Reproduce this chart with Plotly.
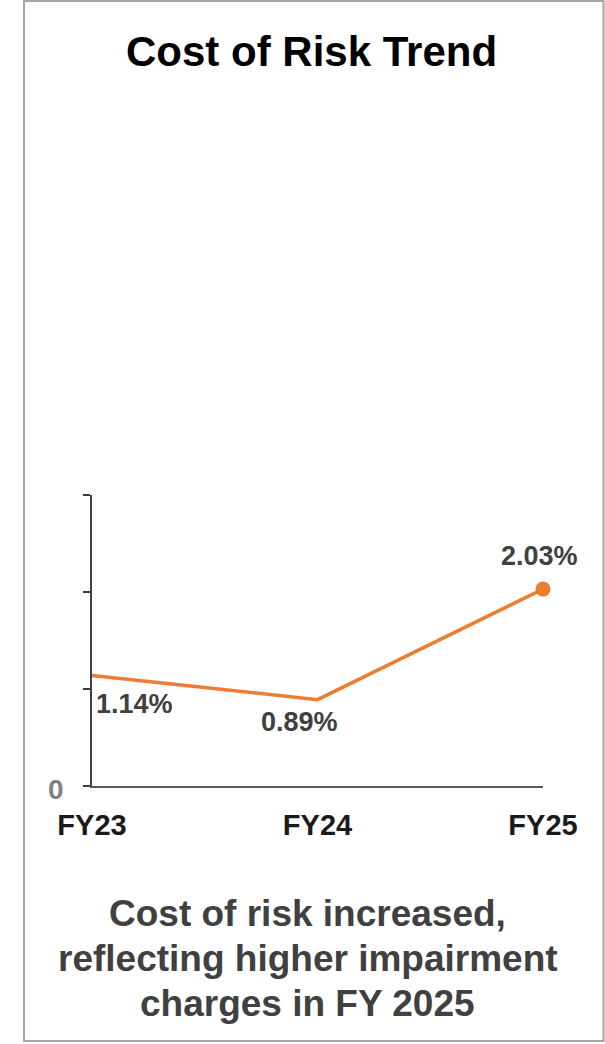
import plotly.graph_objects as go

# Cost of risk by fiscal year (%)
years = ["FY23", "FY24", "FY25"]
cost_of_risk = [1.14, 0.89, 2.03]

# y-axis ticks: only the baseline is labelled
y_tickvals = [0, 1, 2, 3]
y_ticktext = ["0", "", "", ""]

title_text = "Cost of Risk Trend"
note_lines = [
    "Cost of risk increased,",
    "reflecting higher impairment",
    "charges in FY 2025",
]

W, H = 605, 1044
FONT = "Liberation Sans, Arial, sans-serif"
ORANGE = "#ED7D31"


def px_x(x):
    return x / W


def px_y(y):
    return 1 - y / H


fig = go.Figure()

fig.add_trace(go.Scatter(
    x=years, y=cost_of_risk, mode="lines",
    line=dict(color=ORANGE, width=3.5),
    cliponaxis=False, hoverinfo="skip", showlegend=False,
))
# marker on the latest year only
fig.add_trace(go.Scatter(
    x=years[-1:], y=cost_of_risk[-1:], mode="markers",
    marker=dict(color=ORANGE, size=15),
    cliponaxis=False, hoverinfo="skip", showlegend=False,
))

annotations = []

# value labels
label_style = [
    dict(xanchor="left", xshift=2, yshift=-29),
    dict(xanchor="center", xshift=-18, yshift=-22),
    dict(xanchor="center", xshift=-4, yshift=33),
]
for yr, v, st in zip(years, cost_of_risk, label_style):
    annotations.append(dict(
        x=yr, y=v, xref="x", yref="y", text=f"<b>{v:.2f}%</b>",
        showarrow=False, yanchor="middle",
        font=dict(family=FONT, size=27, color="#404040"), **st,
    ))

# title
annotations.append(dict(
    x=px_x(311), y=px_y(52), xref="paper", yref="paper",
    text=f"<b>{title_text}</b>", showarrow=False,
    xanchor="center", yanchor="middle",
    font=dict(family=FONT, size=42, color="#000000"),
))

# commentary below the chart
for i, line in enumerate(note_lines):
    annotations.append(dict(
        x=px_x(308), y=px_y(913 + 45 * i), xref="paper", yref="paper",
        text=f"<b>{line}</b>", showarrow=False,
        xanchor="center", yanchor="middle",
        font=dict(family=FONT, size=37, color="#404040"),
    ))

fig.update_layout(
    width=W, height=H,
    margin=dict(l=0, r=0, t=0, b=0, autoexpand=False),
    paper_bgcolor="white", plot_bgcolor="white",
    showlegend=False,
    annotations=annotations,
    shapes=[dict(
        type="rect", xref="paper", yref="paper",
        x0=px_x(24), x1=px_x(603.5), y0=px_y(1041), y1=px_y(1),
        line=dict(color="#a6a6a6", width=2), fillcolor="rgba(0,0,0,0)",
        layer="below",
    )],
    xaxis=dict(
        domain=[px_x(92), px_x(543)],
        type="category", range=[0, 2], automargin=False,
        showline=True, linecolor="#595959", linewidth=1.5,
        showgrid=False, zeroline=False,
        ticks="", ticklabelstandoff=12,
        tickfont=dict(family=FONT, size=29, color="#1a1a1a", weight="bold"),
    ),
    yaxis=dict(
        domain=[px_y(786), px_y(495)],
        range=[0, 3], automargin=False,
        showline=True, linecolor="#404040", linewidth=1.5,
        showgrid=False, zeroline=False,
        ticks="outside", ticklen=7, tickcolor="#404040", tickwidth=1.5,
        tickvals=y_tickvals, ticktext=y_ticktext,
        ticklabelstandoff=14, ticklabelshift=3,
        tickfont=dict(family=FONT, size=28, color="#808080", weight="bold"),
    ),
)

fig.write_html("out.html")
